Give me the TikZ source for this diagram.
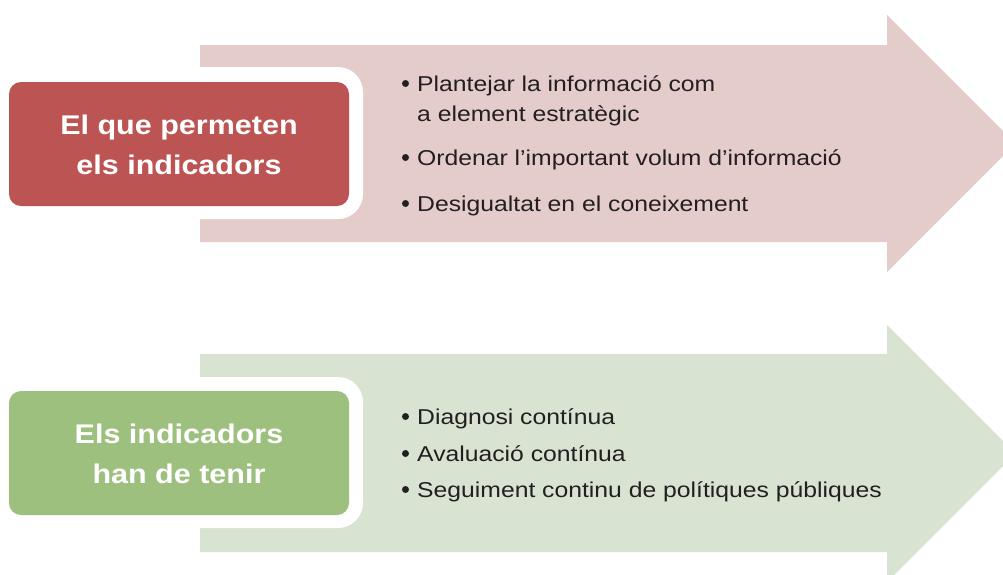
\documentclass[tikz,border=0pt]{standalone}
\usepackage{fontspec}
\setmainfont{Liberation Sans}
\newfontfamily\itemfont[FakeStretch=1.15]{Liberation Sans}
\newfontfamily\titlefont[FakeStretch=1.13]{Liberation Sans}
\definecolor{redbox}{HTML}{BC5453}
\definecolor{redarrow}{HTML}{E4CCCB}
\definecolor{greenbox}{HTML}{9DC07E}
\definecolor{greenarrow}{HTML}{D8E3D2}
\definecolor{txt}{HTML}{231F20}
\tikzset{
  titletext/.style={inner sep=0pt, anchor=base, text=white, font=\titlefont\fontsize{27}{33}\selectfont\bfseries},
  itemtext/.style={inner sep=0pt, anchor=base west, text=txt, font=\itemfont\fontsize{21.5}{26}\selectfont},
  bulletdot/.style={circle, fill=txt, inner sep=0pt, minimum size=7pt},
}
\begin{document}
\begin{tikzpicture}[x=1pt,y=-1pt]
\useasboundingbox (0,0) rectangle (1003,574);
\clip (0,0) rectangle (1003,574);
% arrows
\fill[redarrow] (200,45) -- (887,45) -- (887,15) -- (1015.5,143.5) -- (887,272) -- (887,242) -- (200,242) -- cycle;
\fill[greenarrow] (200,354) -- (887,354) -- (887,325) -- (1015.5,453.5) -- (887,582) -- (887,552) -- (200,552) -- cycle;
% white rings
\fill[white, rounded corners=25pt] (-10,67) rectangle (363,219);
\fill[white, rounded corners=25pt] (-10,377) rectangle (363,528);
% boxes
\fill[redbox, rounded corners=12pt] (9,82) rectangle (349,206);
\fill[greenbox, rounded corners=12pt] (9,391) rectangle (349,515);
% titles
\node[titletext] (t1a) at (179,134.5) {El que permeten};
\node[titletext] (t1b) at (179,174.5) {els indicadors};
\node[titletext] (t2a) at (179,443) {Els indicadors};
\node[titletext] (t2b) at (179,483) {han de tenir};
% items top
\node[bulletdot] (b1) at (405.5,83.5) {};
\node[itemtext] (i1) at (417,91) {Plantejar la informació com};
\node[itemtext] (i1b) at (417,121) {a element estratègic};
\node[bulletdot] (b2) at (405.5,157.5) {};
\node[itemtext] (i2) at (417,165) {Ordenar l’important volum d’informació};
\node[bulletdot] (b3) at (405.5,203.5) {};
\node[itemtext] (i3) at (417,211) {Desigualtat en el coneixement};
% items bottom
\node[bulletdot] (b4) at (405.5,416.5) {};
\node[itemtext] (i4) at (417,424) {Diagnosi contínua};
\node[bulletdot] (b5) at (405.5,453.5) {};
\node[itemtext] (i5) at (417,461) {Avaluació contínua};
\node[bulletdot] (b6) at (405.5,489.5) {};
\node[itemtext] (i6) at (417,497) {Seguiment continu de polítiques públiques};
\end{tikzpicture}
\end{document}
